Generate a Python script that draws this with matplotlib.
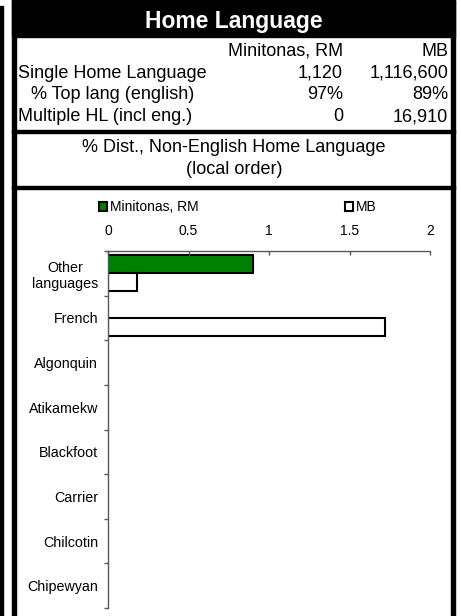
import matplotlib
matplotlib.use('Agg')
import matplotlib.pyplot as plt
from matplotlib.patches import Rectangle
import numpy as np

plt.rcParams['font.family'] = ['Liberation Sans', 'DejaVu Sans']

# ---- data ----
title = 'Home Language'
col_headers = ['Minitonas, RM', 'MB']
row_labels = ['Single Home Language', '% Top lang (english)', 'Multiple HL (incl eng.)']
local_vals = ['1,120', '97%', '0']
prov_vals = ['1,116,600', '89%', '16,910']
chart_title = ['% Dist., Non-English Home Language', '(local order)']

languages = ['Other\nlanguages', 'French', 'Algonquin', 'Atikamekw',
             'Blackfoot', 'Carrier', 'Chilcotin', 'Chipewyan']
local_pct = [0.9, 0, 0, 0, 0, 0, 0, 0]
prov_pct = [0.18, 1.72, 0, 0, 0, 0, 0, 0]
x_ticks = [0, 0.5, 1, 1.5, 2]

# ---- figure in pixel units ----
W, H = 461, 616
fig = plt.figure(figsize=(W / 100, H / 100), dpi=100)
bg = fig.add_axes([0, 0, 1, 1])
bg.set_xlim(0, W)
bg.set_ylim(H, 0)
bg.axis('off')

# frame and separators
bg.add_patch(Rectangle((0, 6), 2.5, H - 6, color='black'))
bg.add_patch(Rectangle((12, 0), 443, 37, color='black'))
bg.add_patch(Rectangle((12, 0), 4, H, color='black'))
bg.add_patch(Rectangle((451, 0), 4, H, color='black'))
bg.add_patch(Rectangle((12, 130), 443, 3, color='black'))
bg.add_patch(Rectangle((12, 186), 443, 3, color='black'))

# header block
bg.text(234, 28, title, color='white', fontsize=16.5, fontweight='bold',
        ha='center', va='baseline')
tfs = 13
bg.text(343, 56, col_headers[0], fontsize=tfs, ha='right', va='baseline')
bg.text(448, 56, col_headers[1], fontsize=tfs, ha='right', va='baseline')
row_base = [78, 99, 121]
row_x = [18, 31, 18]
for lbl, v1, v2, yb, xl in zip(row_labels, local_vals, prov_vals, row_base, row_x):
    bg.text(xl, yb, lbl, fontsize=tfs, ha='left', va='baseline')
    bg.text(343, yb, v1, fontsize=tfs, ha='right', va='baseline')
    bg.text(448, yb, v2, fontsize=tfs, ha='right', va='baseline')
bg.text(234, 152, chart_title[0], fontsize=tfs, ha='center', va='baseline')
bg.text(234, 174, chart_title[1], fontsize=tfs, ha='center', va='baseline')

# ---- bar chart ----
x0, x1, ytop, ybot = 108, 430, 251, 608
ax = fig.add_axes([x0 / W, 1 - ybot / H, (x1 - x0) / W, (ybot - ytop) / H])
ax.patch.set_alpha(0)
pos = np.arange(len(languages))
h = 0.4
b1 = ax.barh(pos - h / 2, local_pct, height=h, color='#008000',
             edgecolor='black', linewidth=1.5, label=col_headers[0])
b2 = ax.barh(pos + h / 2, prov_pct, height=h, color='white',
             edgecolor='black', linewidth=1.5, label=col_headers[1])
for bars in (b1, b2):
    for p in bars.patches:
        if p.get_width() == 0:
            p.set_visible(False)

ax.set_xlim(0, 2)
ax.set_ylim(len(languages) - 0.5, -0.5)
ax.xaxis.tick_top()
ax.set_xticks(x_ticks)
ax.set_xticklabels(['0', '0.5', '1', '1.5', '2'], fontsize=10)
ax.tick_params(axis='x', direction='in', length=3, width=1, color='#595959', pad=9.5)

ax.set_yticks(np.arange(-0.5, len(languages), 1.0))
ax.set_yticklabels([])
ax.set_yticks(pos, minor=True)
ax.set_yticklabels(languages, minor=True, fontsize=10.3, multialignment='center')
ax.tick_params(axis='y', which='major', direction='out', length=3, width=1, color='#595959')
ax.tick_params(axis='y', which='minor', length=0, pad=7)

for s in ('right', 'bottom'):
    ax.spines[s].set_visible(False)
for s in ('top', 'left'):
    ax.spines[s].set_color('#595959')
    ax.spines[s].set_linewidth(1)

fig.legend(handles=[b1, b2], loc='center left', bbox_to_anchor=(99 / W, 1 - 207 / H),
           ncol=2, frameon=False, fontsize=10, handlelength=0.6, handleheight=0.6,
           handletextpad=0.2, columnspacing=10.5, borderpad=0, borderaxespad=0)

fig.savefig('out.png', dpi=100)
